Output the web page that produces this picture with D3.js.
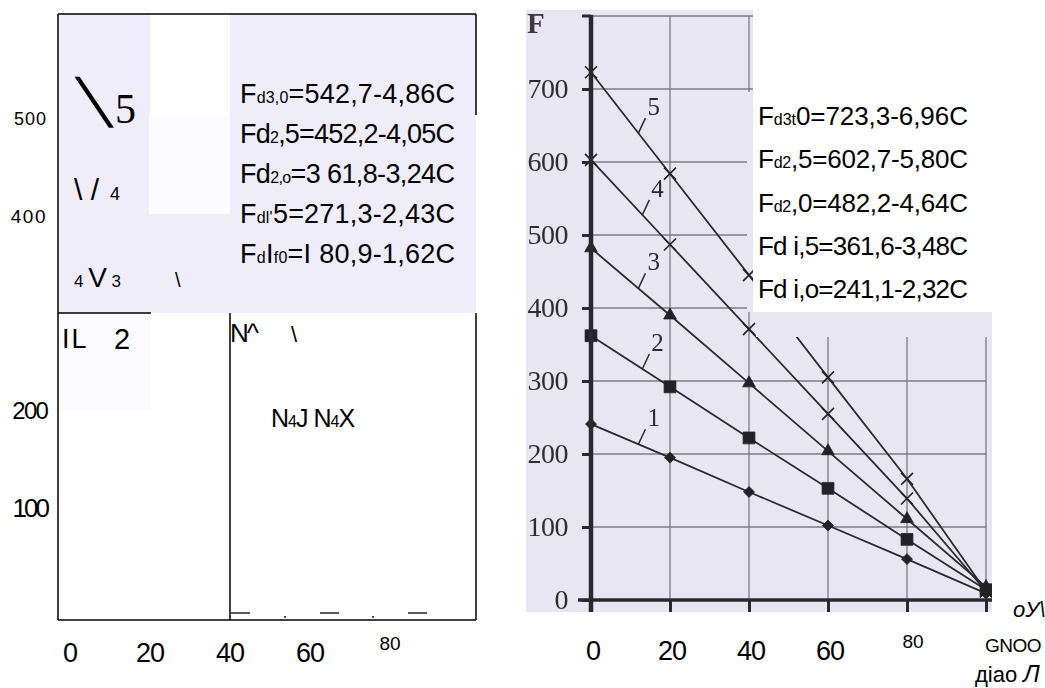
<!DOCTYPE html>
<html>
<head>
<meta charset="utf-8">
<script src="https://cdn.jsdelivr.net/npm/d3@7"></script>
<style>
  body { margin: 0; background: #fff; }
  svg { display: block; }
</style>
</head>
<body>
<svg id="chart" width="1045" height="688"></svg>
<script>
// Values (right panel)
const cValues = [0, 20, 40, 60, 80, 100];
const line1 = [241, 195, 148, 102, 56, 9];
const line2 = [362, 292, 222, 153, 83, 14];
const line3 = [482, 390, 297, 204, 111, 18];
const line4 = [603, 487, 371, 255, 139, 12];
const line5 = [723, 584, 445, 305, 166, 12];
const curveNames = ["1", "2", "3", "4", "5"];
const markerKinds = ["diamond", "square", "triangle", "cross", "cross"];
const fTicks = [0, 100, 200, 300, 400, 500, 600, 700];
const gridF = [100, 200, 300, 400, 500, 600, 700, 800];
const gridC = [20, 40, 60, 80, 100];
const cTickLabels = ["0", "20", "40", "60", "80"];

// Left panel (text layer)
const leftYTicks = [500, 400, 200, 100];
const leftXTicks = [0, 20, 40, 60, 80];

// "_{...}" marks the small subscript part
const leftFormulas = [
  "F_{d3,0}=542,7-4,86C",
  "Fd_{2},5=452,2-4,05C",
  "Fd_{2,o}=3 61,8-3,24C",
  "F_{dl'}5=271,3-2,43C",
  "F_{d}I_{f0}=I 80,9-1,62C",
];
const rightFormulas = [
  "F_{d3t}0=723,3-6,96C",
  "F_{d2},5=602,7-5,80C",
  "F_{d2},0=482,2-4,64C",
  "Fd i,5=361,6-3,48C",
  "Fd i,o=241,1-2,32C",
];

const series = [line1, line2, line3, line4, line5];

const svg = d3.select("#chart");
const SANS = "'Liberation Sans', Arial, sans-serif";
const SERIF = "'Liberation Serif', 'Times New Roman', serif";

function splitFormula(str) {
  const parts = [];
  const re = /_\{([^}]*)\}/g;
  let last = 0, m;
  while ((m = re.exec(str))) {
    if (m.index > last) parts.push({ t: str.slice(last, m.index), small: false });
    parts.push({ t: m[1], small: true });
    last = re.lastIndex;
  }
  if (last < str.length) parts.push({ t: str.slice(last), small: false });
  return parts;
}

// squeeze each formula line to the width it has in the picture
function drawFormulas(g, list, x, y0, step, width, big, small) {
  list.forEach((f, i) => {
    const txt = g.append("text")
      .attr("x", x)
      .attr("y", y0 + i * step)
      .attr("font-family", SANS)
      .attr("fill", "#000");
    splitFormula(f).forEach((p) => {
      txt.append("tspan").attr("font-size", p.small ? small : big).text(p.t);
    });
    const w = txt.node().getComputedTextLength();
    const n = txt.text().length;
    txt.attr("letter-spacing", ((width - w) / (n - 1)).toFixed(2));
  });
}

// ---------------- left panel ----------------
const left = svg.append("g");
const xL = d3.scaleLinear().domain([0, 80]).range([70, 390]);
const yL = d3.scaleLinear().domain([0, 500]).range([608, 118]);

left.append("rect").attr("x", 58).attr("y", 14).attr("width", 418).attr("height", 299).attr("fill", "#efedfa");
left.append("rect").attr("x", 150).attr("y", 14).attr("width", 80).attr("height", 101).attr("fill", "#fff");
left.append("rect").attr("x", 149).attr("y", 115).attr("width", 81).attr("height", 99).attr("fill", "#fbfbfe");
left.append("rect").attr("x", 58).attr("y", 313).attr("width", 93).attr("height", 97).attr("fill", "#fbfbfe");

const frame = [
  [58, 14, 476, 14], [58, 14, 58, 620], [58, 620, 476, 620],
  [476, 14, 476, 115], [476, 313, 476, 620],
  [58, 313, 151, 313], [230, 313, 230, 620],
];
left.selectAll("line.frame").data(frame).join("line")
  .attr("x1", (d) => d[0]).attr("y1", (d) => d[1])
  .attr("x2", (d) => d[2]).attr("y2", (d) => d[3])
  .attr("stroke", "#000").attr("stroke-width", 1.5);

// left y labels, each with its own odd OCR size
const leftYStyle = [
  { size: 18, ls: 1 }, { size: 19, ls: 1.5 }, { size: 24, ls: -1.8 }, { size: 26, ls: -3 },
];
left.selectAll("text.ly").data(leftYTicks).join("text")
  .attr("x", 47)
  .attr("y", (d) => yL(d) + 7)
  .attr("text-anchor", "end")
  .attr("font-family", SANS)
  .attr("font-size", (d, i) => leftYStyle[i].size)
  .attr("letter-spacing", (d, i) => leftYStyle[i].ls)
  .text((d) => d);

left.selectAll("text.lx").data(leftXTicks).join("text")
  .attr("x", (d) => xL(d))
  .attr("y", (d) => (d === 80 ? 650 : 662))
  .attr("text-anchor", "middle")
  .attr("font-family", SANS)
  .attr("font-size", (d) => (d === 80 ? 19 : 27))
  .attr("letter-spacing", (d) => (d === 80 ? 0 : -1))
  .text((d) => d);

drawFormulas(left, leftFormulas, 240, 103, 40, 215, 27, 16);

// OCR fragments
left.append("text").attr("transform", "translate(91,122) skewX(20)")
  .attr("font-family", "'DejaVu Sans', sans-serif").attr("font-size", 62).text("\\");
left.append("text").attr("x", 115).attr("y", 123).attr("font-family", SERIF)
  .attr("font-size", 42).text("5");
left.append("text").attr("x", 74).attr("y", 200).attr("font-family", SANS)
  .attr("font-size", 30).text("\\ /");
left.append("text").attr("x", 110).attr("y", 200).attr("font-family", SANS)
  .attr("font-size", 18).text("4");
left.append("text").attr("x", 74).attr("y", 287).attr("font-family", SANS)
  .call((t) => {
    t.append("tspan").attr("font-size", 17).text("4 ");
    t.append("tspan").attr("font-size", 28).text("V");
    t.append("tspan").attr("font-size", 17).text(" 3");
  });
left.append("text").attr("x", 175).attr("y", 287).attr("font-family", SANS)
  .attr("font-size", 20).text("\\");
left.append("text").attr("x", 62).attr("y", 348).attr("font-family", SANS)
  .attr("font-size", 27).attr("letter-spacing", 2).text("IL");
left.append("text").attr("x", 114).attr("y", 349).attr("font-family", SANS)
  .attr("font-size", 29).text("2");
left.append("text").attr("x", 230).attr("y", 342).attr("font-family", SANS)
  .attr("font-size", 26).attr("letter-spacing", -2).text("N^");
left.append("text").attr("x", 291).attr("y", 342).attr("font-family", SANS)
  .attr("font-size", 22).text("\\");
left.append("text").attr("x", 271).attr("y", 427).attr("font-family", SANS)
  .attr("letter-spacing", -1)
  .call((t) => {
    t.append("tspan").attr("font-size", 25).text("N");
    t.append("tspan").attr("font-size", 16).text("4");
    t.append("tspan").attr("font-size", 25).text("J  N");
    t.append("tspan").attr("font-size", 16).text("4");
    t.append("tspan").attr("font-size", 25).text("X");
  });
[231, 320, 408].forEach((x) => {
  left.append("line").attr("x1", x).attr("x2", x + 19).attr("y1", 613).attr("y2", 613)
    .attr("stroke", "#000").attr("stroke-width", 1.3);
});
[285, 373].forEach((x) => {
  left.append("circle").attr("cx", x).attr("cy", 617).attr("r", 0.9).attr("fill", "#000");
});

// ---------------- right panel (scanned chart) ----------------
const xR = d3.scaleLinear().domain([0, 100]).range([591, 986]);
const yR = d3.scaleLinear().domain([0, 700]).range([600, 89]);

const defs = svg.append("defs");
defs.append("filter").attr("id", "scan").append("feGaussianBlur").attr("stdDeviation", 0.45);

// visible parts of the scan under the white text box
const gridClip = defs.append("clipPath").attr("id", "gridClip");
[[526, 10, 221, 602], [747, 10, 6, 82], [747, 312, 9, 300], [756, 337, 236, 275]].forEach((r) => {
  gridClip.append("rect").attr("x", r[0]).attr("y", r[1]).attr("width", r[2]).attr("height", r[3]);
});
const curveClip = defs.append("clipPath").attr("id", "curveClip");
[[526, 10, 227, 602], [753, 312, 3, 300], [756, 337, 236, 275]].forEach((r) => {
  curveClip.append("rect").attr("x", r[0]).attr("y", r[1]).attr("width", r[2]).attr("height", r[3]);
});

const scan = svg.append("g").attr("filter", "url(#scan)");
scan.append("rect").attr("x", 526).attr("y", 10).attr("width", 227).attr("height", 602).attr("fill", "#e8e6f1");
scan.append("rect").attr("x", 753).attr("y", 312).attr("width", 239).attr("height", 300).attr("fill", "#e8e6f1");

const gridG = scan.append("g").attr("clip-path", "url(#gridClip)");
gridG.selectAll("line.gh").data(gridF).join("line")
  .attr("x1", xR(0)).attr("x2", xR(100))
  .attr("y1", (d) => yR(d)).attr("y2", (d) => yR(d))
  .attr("stroke", "#7c7b84").attr("stroke-width", 1.3);
gridG.selectAll("line.gv").data(gridC).join("line")
  .attr("x1", (d) => xR(d)).attr("x2", (d) => xR(d))
  .attr("y1", yR(0)).attr("y2", yR(800))
  .attr("stroke", "#7c7b84").attr("stroke-width", 1.3);

const plot = scan.append("g").attr("clip-path", "url(#curveClip)");
const lineGen = d3.line().x((d, i) => xR(cValues[i])).y((d) => yR(d));
plot.selectAll("path.curve").data(series).join("path")
  .attr("d", lineGen)
  .attr("fill", "none")
  .attr("stroke", "#2c2b30")
  .attr("stroke-width", 1.8);

function markerPath(kind) {
  if (kind === "diamond") return d3.symbol(d3.symbolSquare, 60)();
  if (kind === "square") return d3.symbol(d3.symbolSquare, 140)();
  if (kind === "triangle") return d3.symbol(d3.symbolTriangle, 70)();
  return "M-6,-6L6,6M-6,6L6,-6";
}
series.forEach((vals, si) => {
  const kind = markerKinds[si];
  plot.selectAll(null).data(vals).join("path")
    .attr("transform", (d, i) =>
      `translate(${xR(cValues[i])},${yR(d)})` + (kind === "diamond" ? " rotate(45)" : ""))
    .attr("d", markerPath(kind))
    .attr("fill", kind === "cross" ? "none" : "#242328")
    .attr("stroke", "#242328")
    .attr("stroke-width", kind === "cross" ? 1.6 : 0.8);
});

// curve numbers with leader ticks
const labelC = [12, 13, 12, 13, 12];
series.forEach((vals, si) => {
  const c = labelC[si];
  const k = cValues.findIndex((v) => v > c) - 1;
  const t = (c - cValues[k]) / (cValues[k + 1] - cValues[k]);
  const f = vals[k] + t * (vals[k + 1] - vals[k]);
  const x = xR(c), y = yR(f);
  scan.append("line").attr("x1", x).attr("y1", y).attr("x2", x + 7).attr("y2", y - 15)
    .attr("stroke", "#2c2b30").attr("stroke-width", 1.5);
  scan.append("text").attr("x", x + 9).attr("y", y - 18)
    .attr("font-family", SERIF).attr("font-size", 25).attr("fill", "#2c2b30")
    .text(curveNames[si]);
});

// axes
const yAxis = d3.axisLeft(yR).tickValues(fTicks).tickSize(9).tickPadding(14);
const yAxisG = scan.append("g").attr("transform", `translate(${xR(0)},0)`).call(yAxis);
yAxisG.select(".domain").remove();
yAxisG.selectAll(".tick line").attr("stroke", "#2a292e").attr("stroke-width", 3);
yAxisG.selectAll(".tick text")
  .attr("font-family", SERIF).attr("font-size", 28).attr("fill", "#2f2e33")
  .attr("letter-spacing", -0.5);

const xAxis = d3.axisBottom(xR).tickValues(cValues).tickSize(12).tickFormat("");
const xAxisG = scan.append("g").attr("transform", `translate(0,${yR(0)})`).call(xAxis);
xAxisG.select(".domain").remove();
xAxisG.selectAll(".tick line").attr("stroke", "#2a292e").attr("stroke-width", 3);

scan.append("line").attr("x1", xR(0) - 13).attr("x2", xR(100) + 6)
  .attr("y1", yR(0)).attr("y2", yR(0))
  .attr("stroke", "#2a292e").attr("stroke-width", 3.5);
scan.append("line").attr("x1", xR(0)).attr("x2", xR(0))
  .attr("y1", yR(800) - 1).attr("y2", yR(0) + 12)
  .attr("stroke", "#2a292e").attr("stroke-width", 4.5);
scan.append("line").attr("x1", xR(0) - 9).attr("x2", xR(0))
  .attr("y1", yR(800)).attr("y2", yR(800))
  .attr("stroke", "#2a292e").attr("stroke-width", 3);
scan.append("text").attr("x", 527).attr("y", 33)
  .attr("font-family", SERIF).attr("font-size", 29).attr("font-weight", "bold")
  .attr("fill", "#3a393f").text("F");

// OCR text layer over the scan
const right = svg.append("g");
drawFormulas(right, rightFormulas, 758, 125, 43.3, 210, 26, 16);

right.selectAll("text.rx").data(cTickLabels).join("text")
  .attr("x", (d) => xR(+d) + (d === "80" ? 6 : 2))
  .attr("y", (d) => (d === "80" ? 648 : 660))
  .attr("text-anchor", "middle")
  .attr("font-family", SANS)
  .attr("font-size", (d) => (d === "80" ? 19 : 27))
  .attr("letter-spacing", (d) => (d === "80" ? 0 : -1))
  .text((d) => d);

right.append("text").attr("x", 1013).attr("y", 617).attr("font-family", SANS)
  .attr("font-size", 22).attr("font-style", "italic").text("оУ\\");
right.append("text").attr("x", 985).attr("y", 652).attr("font-family", SANS)
  .attr("font-size", 19).attr("letter-spacing", -0.5).text("GNOO");
right.append("text").attr("x", 975).attr("y", 682).attr("font-family", SANS)
  .call((t) => {
    t.append("tspan").attr("font-size", 22).text("діао ");
    t.append("tspan").attr("font-size", 24).attr("font-style", "italic").text("Л");
  });
</script>
</body>
</html>
